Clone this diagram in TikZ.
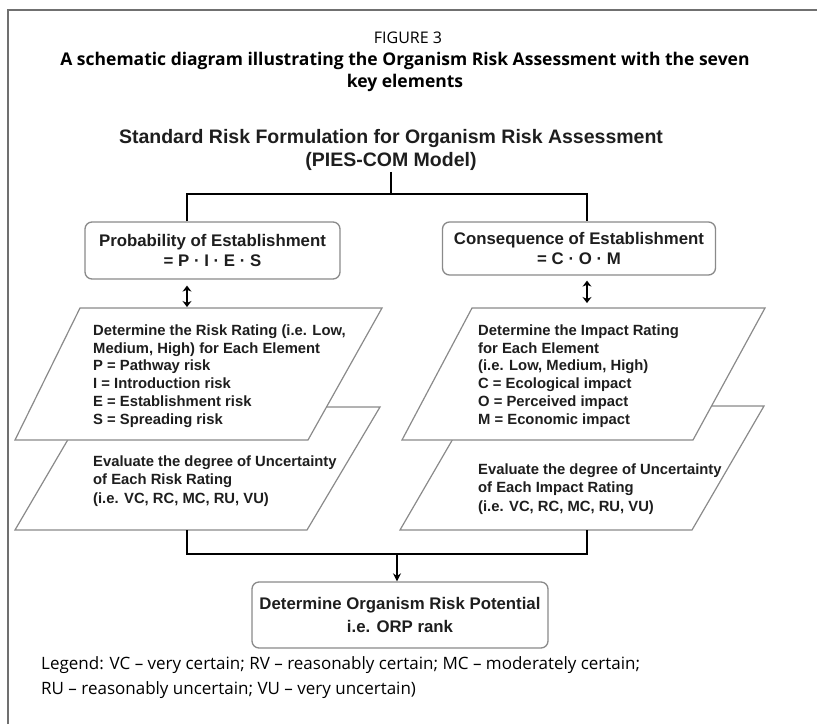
\documentclass[tikz,border=0pt]{standalone}
\usepackage{fontspec}
\setmainfont{Open Sans}
\newfontfamily\diagfont{Liberation Sans}
\usetikzlibrary{calc, positioning}
\usetikzlibrary{arrows.meta}

\definecolor{framegray}{HTML}{707070}
\definecolor{boxgray}{HTML}{8A8A8A}
\definecolor{inkgray}{HTML}{1E1E1E}

\tikzset{
  rbox/.style={draw=boxgray, line width=1.3pt, rounded corners=7pt, fill=white,
    align=center, inner sep=0pt, text=inkgray,
    font=\diagfont\bfseries\fontsize{16.8}{20}\selectfont},
  slab/.style={draw=boxgray, line width=1.2pt, fill=white},
  slabtext/.style={anchor=base west, align=left, inner sep=0pt, text=inkgray,
    font=\diagfont\bfseries\fontsize{14.8}{17.8}\selectfont},
  link/.style={line width=2.8pt, black},
  dblarrow/.style={line width=2.6pt, {Stealth[length=6pt,width=9pt]}-{Stealth[length=6pt,width=9pt]}},
  downarrow/.style={line width=1.8pt, -{Stealth[length=8pt,width=8pt]}},
}

\begin{document}
\begin{tikzpicture}[x=1pt,y=-1pt]
\useasboundingbox (0,0) rectangle (817,724);

% Frame
\draw[framegray, line width=1.5pt] (8,724) -- (8,10) -- (817,10);

% Caption
\node[font=\fontsize{16}{18}\selectfont] (fig) at (408,38) {FIGURE 3};
\node[align=center, font=\bfseries\fontsize{17.5}{22}\selectfont] (title) at (405,72)
  {A schematic diagram illustrating the Organism Risk Assessment with the seven\\key elements};

% Model heading
\node[align=center, inner sep=1pt, text=inkgray, font=\diagfont\bfseries\fontsize{19.5}{23}\selectfont]
  (head) at (391,150) {Standard Risk Formulation for Organism Risk Assessment\\(PIES-COM Model)};

\coordinate (barT) at (391,194);
\coordinate (p1top) at (187,308);
\coordinate (p3top) at (587,308);
\coordinate (p2bot) at (187,530);
\coordinate (p4bot) at (587,530);
\coordinate (barB) at (397,554);

% Top boxes
\node[rbox, minimum width=255pt, minimum height=57pt] (prob) at (212.5,250.5)
  {Probability of Establishment\\= P · I · E · S};
\node[rbox, minimum width=273pt, minimum height=53pt] (cons) at (579,248.5)
  {Consequence of Establishment\\= C · O · M};

% Parallelograms, back ones first
\draw[slab] (15,530) -- (87,407) -- (380,407) -- (307,530) -- cycle;
\draw[slab] (15,440) -- (80,308) -- (382,308) -- (308,440) -- cycle;
\draw[slab] (400,530) -- (472,406) -- (764,406) -- (692,530) -- cycle;
\draw[slab] (402,440) -- (472,308) -- (765,308) -- (693,440) -- cycle;

% base = baseline of the last line
\node[slabtext] (risk) at (93,424.3)
  {Determine the Risk Rating (i.e. Low,\\Medium, High) for Each Element\\P = Pathway risk\\I = Introduction risk\\E = Establishment risk\\S = Spreading risk};
\node[slabtext, font=\diagfont\bfseries\fontsize{14.8}{18.5}\selectfont] (riskunc) at (93,503.3)
  {Evaluate the degree of Uncertainty\\of Each Risk Rating\\(i.e. VC, RC, MC, RU, VU)};
\node[slabtext] (impact) at (478,424.3)
  {Determine the Impact Rating\\for Each Element\\(i.e. Low, Medium, High)\\C = Ecological impact\\O = Perceived impact\\M = Economic impact};
\node[slabtext, font=\diagfont\bfseries\fontsize{14.8}{18.5}\selectfont] (impactunc) at (478,511.3)
  {Evaluate the degree of Uncertainty\\of Each Impact Rating\\(i.e. VC, RC, MC, RU, VU)};

% Bottom box
\node[rbox, minimum width=296pt, minimum height=66pt, font=\diagfont\bfseries\fontsize{16.8}{23}\selectfont]
  (orp) at (400,615) {Determine Organism Risk Potential\\i.e. ORP rank};

% Connectors
\draw[link] (head.south) -- (barT);
\draw[link] (prob.north -| p1top) -- (p1top |- barT) -- (p3top |- barT) -- (cons.north -| p3top);
\draw[dblarrow, shorten <=6pt, shorten >=1pt] (prob.south -| p1top) -- (p1top);
\draw[dblarrow, shorten <=5pt, shorten >=5pt] (cons.south -| p3top) -- (p3top);
\draw[link] (p2bot) -- (p2bot |- barB) -- (p4bot |- barB) -- (p4bot);
\draw[downarrow] (barB) -- (barB |- orp.north);

% Legend
\node[anchor=base west, align=left, inner sep=0pt, font=\fontsize{17}{25}\selectfont] (legend) at (41,694)
  {Legend: VC – very certain; RV – reasonably certain; MC – moderately certain;\\RU – reasonably uncertain; VU – very uncertain)};
\end{tikzpicture}
\end{document}
